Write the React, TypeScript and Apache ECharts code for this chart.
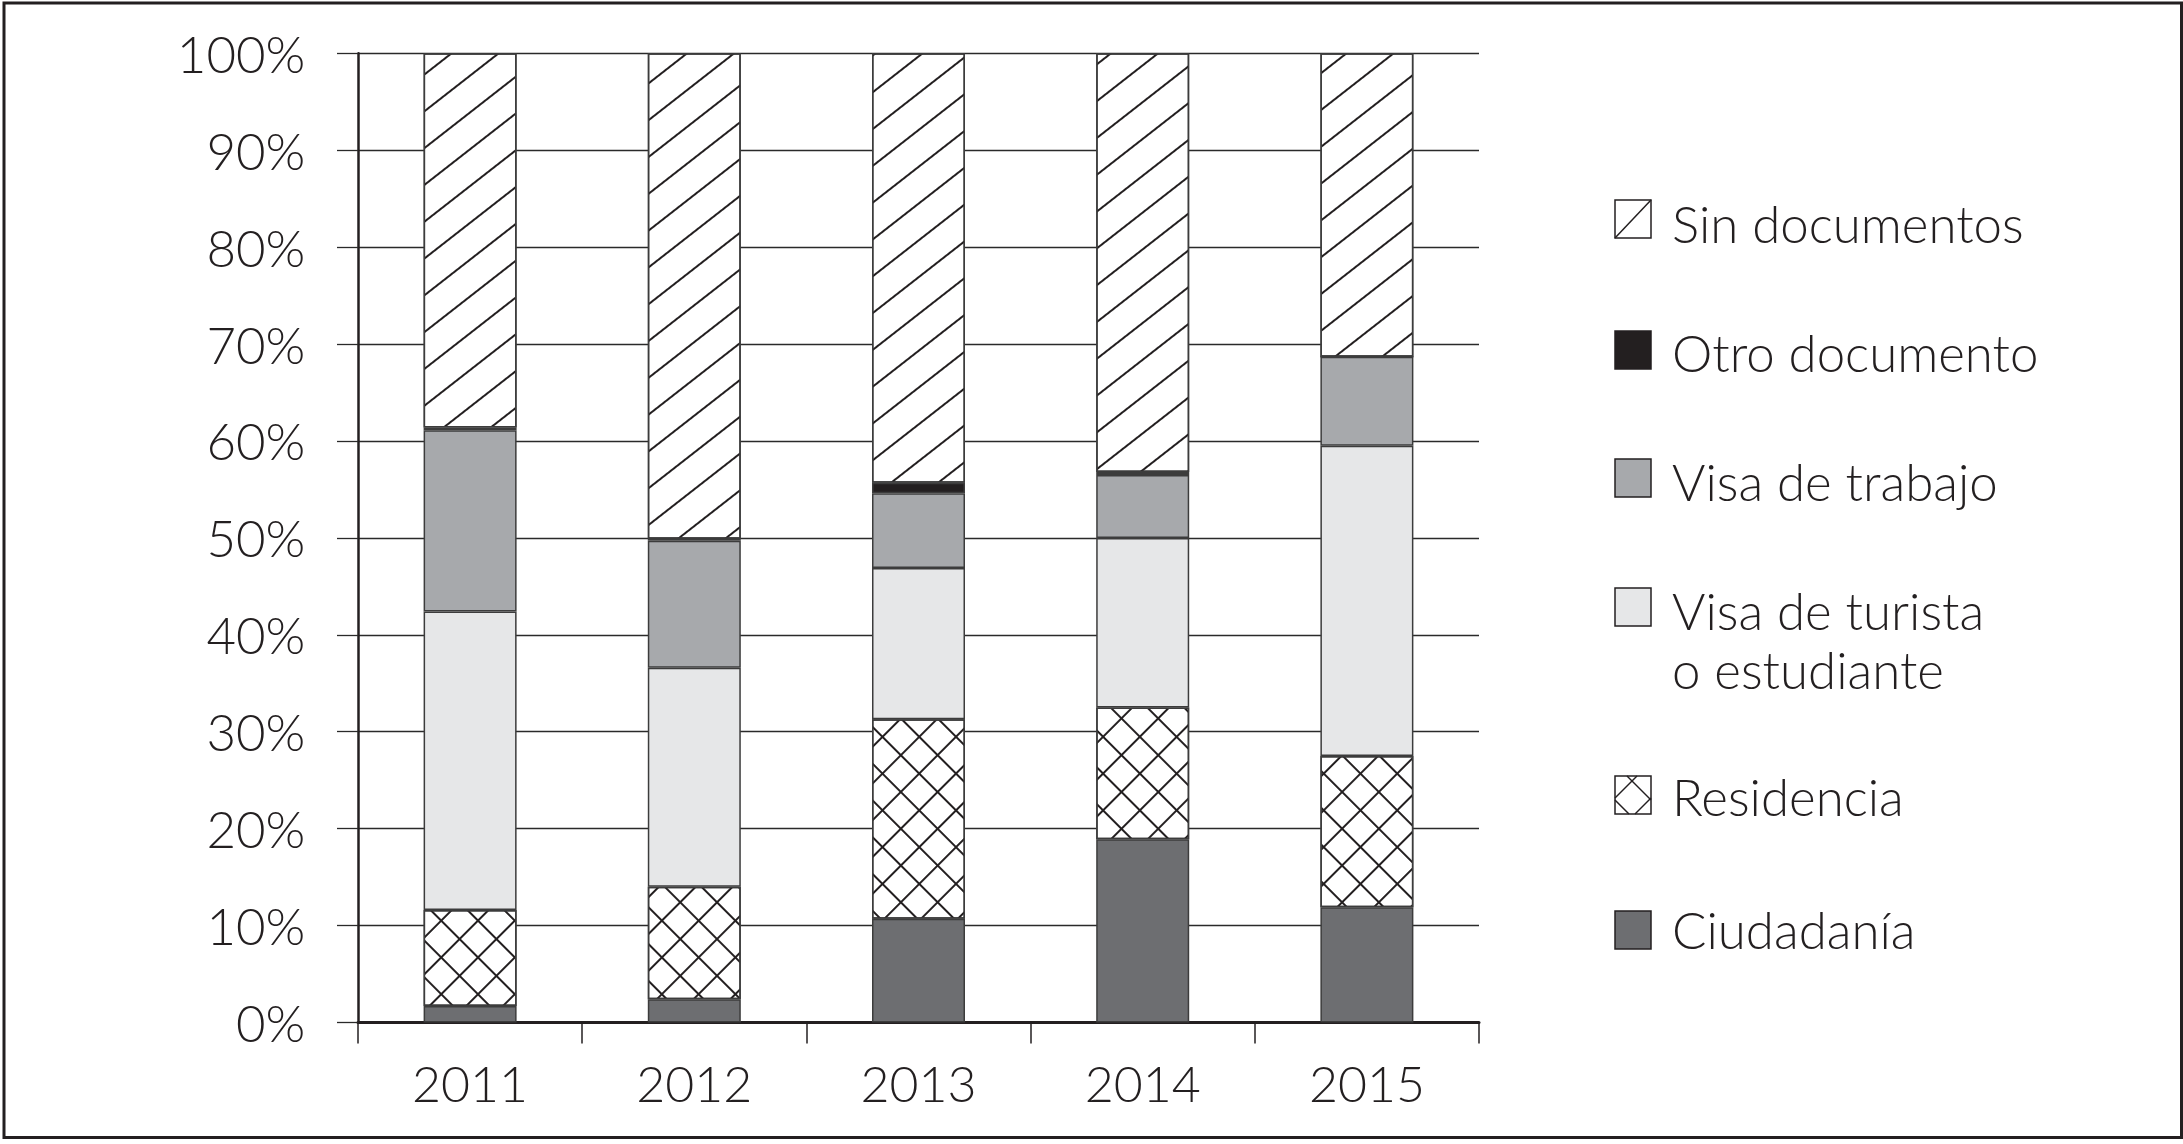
import React, { useEffect, useRef } from 'react';
import * as echarts from 'echarts';

// ---- data (percent of each year's total) ----
const years = ['2011', '2012', '2013', '2014', '2015'];
const ciudadania = [1.7, 2.4, 10.7, 18.9, 11.9];
const residencia = [9.9, 11.6, 20.6, 13.6, 15.6];
const visaTurista = [30.8, 22.6, 15.6, 17.5, 32.0];
const visaTrabajo = [18.7, 13.1, 7.7, 6.5, 9.2];
const otroDocumento = [0.3, 0.2, 1.1, 0.3, 0];
const sinDocumentos = [38.6, 50.1, 44.3, 43.2, 31.3];

const yMin = 0;
const yMax = 100;
const yStep = 10;

const seriesNames = [
  'Ciudadanía',
  'Residencia',
  'Visa de turista o estudiante',
  'Visa de trabajo',
  'Otro documento',
  'Sin documentos',
];
const legendLabels = [
  'Sin documentos',
  'Otro documento',
  'Visa de trabajo',
  'Visa de turista\no estudiante',
  'Residencia',
  'Ciudadanía',
];

const INK = '#231f20';
const FONT = 'Lato';

export default function App() {
  const ref = useRef<HTMLDivElement>(null);

  useEffect(() => {
    if (!ref.current) return;
    const chart = echarts.init(ref.current, undefined, { renderer: 'svg' });

    const border = { borderColor: '#3c3c3c', borderWidth: 1.5 };

    const hatchDecal = {
      symbol: 'rect',
      symbolSize: 1,
      color: INK,
      backgroundColor: '#ffffff',
      dashArrayX: [1, 0],
      dashArrayY: [2, 27],
      rotation: (-38 * Math.PI) / 180,
    };
    const crossDecal = {
      symbol: 'path://M0,0H26V2H2V26H0Z',
      symbolSize: 1,
      symbolKeepAspect: false,
      color: INK,
      backgroundColor: '#ffffff',
      dashArrayX: [26, 0],
      dashArrayY: [26, 0],
      rotation: Math.PI / 4,
    };

    const values = [ciudadania, residencia, visaTurista, visaTrabajo, otroDocumento, sinDocumentos];
    const styles: any[] = [
      { color: '#6d6e71', ...border },
      { color: '#ffffff', decal: crossDecal, ...border },
      { color: '#e6e7e8', ...border },
      { color: '#a7a9ac', ...border },
      { color: INK, ...border },
      { color: '#ffffff', decal: hatchDecal, ...border },
    ];

    const series = values.map((v, i) => ({
      name: seriesNames[i],
      type: 'bar',
      stack: 'total',
      data: v,
      barWidth: 93,
      itemStyle: styles[i],
      emphasis: { disabled: true },
    }));

    // legend drawn as graphics
    const iconX = 1615;
    const iconTops = [200, 331, 459, 588, 776, 911];
    const textYs = [223, 352, 481, 640, 796, 929];
    const iconFills = ['#ffffff', INK, '#a7a9ac', '#e6e7e8', '#ffffff', '#6d6e71'];
    const graphics: any[] = [
      {
        type: 'rect',
        shape: { x: 4, y: 3, width: 2177.5, height: 1134.5 },
        style: { fill: 'none', stroke: INK, lineWidth: 3 },
        silent: true,
      },
    ];
    legendLabels.forEach((lab, i) => {
      const top = iconTops[i];
      graphics.push({
        type: 'rect',
        shape: { x: iconX, y: top, width: 36, height: 38 },
        style: { fill: iconFills[i], stroke: INK, lineWidth: 1.5 },
        silent: true,
      });
      if (i === 0) {
        graphics.push({
          type: 'line',
          shape: { x1: iconX, y1: top + 38, x2: iconX + 36, y2: top },
          style: { stroke: INK, lineWidth: 1.5 },
          silent: true,
        });
      }
      if (i === 4) {
        const segs = [
          [12, 0, 36, 24],
          [0, 24, 14, 38],
          [22, 0, 0, 22],
          [36, 22, 20, 38],
        ];
        segs.forEach((s) =>
          graphics.push({
            type: 'line',
            shape: { x1: iconX + s[0], y1: top + s[1], x2: iconX + s[2], y2: top + s[3] },
            style: { stroke: INK, lineWidth: 1.5 },
            silent: true,
          })
        );
      }
      graphics.push({
        type: 'text',
        x: 1672,
        y: textYs[i],
        style: {
          text: lab,
          fill: INK,
          fontFamily: FONT,
          fontSize: 51,
          fontWeight: 300,
          lineHeight: 59,
          align: 'left',
          verticalAlign: 'middle',
          textAlign: 'left',
          textVerticalAlign: 'middle',
        },
        silent: true,
      });
    });

    chart.setOption({
      animation: false,
      backgroundColor: '#ffffff',
      grid: { left: 358, right: 704, top: 53.3, bottom: 121.5, containLabel: false },
      xAxis: {
        type: 'category',
        data: years,
        boundaryGap: true,
        axisLine: { show: true, lineStyle: { color: INK, width: 3 } },
        axisTick: { show: true, length: 21, alignWithLabel: false, lineStyle: { color: INK, width: 1.5 } },
        axisLabel: {
          color: INK,
          fontFamily: FONT,
          fontSize: 50,
          fontWeight: 300,
          lineHeight: 51,
          margin: 34.5,
        },
        splitLine: { show: false },
      },
      yAxis: {
        type: 'value',
        min: yMin,
        max: yMax,
        interval: yStep,
        axisLine: { show: true, lineStyle: { color: INK, width: 2.5 } },
        axisTick: { show: true, length: 21, lineStyle: { color: '#2a2a2a', width: 1.3 } },
        axisLabel: {
          color: INK,
          fontFamily: FONT,
          fontSize: 51,
          fontWeight: 300,
          margin: 52.7,
          padding: [20, 0, 0, 0],
          formatter: '{value}%',
        },
        splitLine: { show: true, lineStyle: { color: '#2a2a2a', width: 1.3 } },
      },
      series,
      graphic: graphics,
    } as any);

    return () => chart.dispose();
  }, []);

  return (
    <div
      ref={ref}
      style={{ position: 'absolute', left: 0, top: 0, width: 2183, height: 1144, background: '#fff' }}
    />
  );
}
